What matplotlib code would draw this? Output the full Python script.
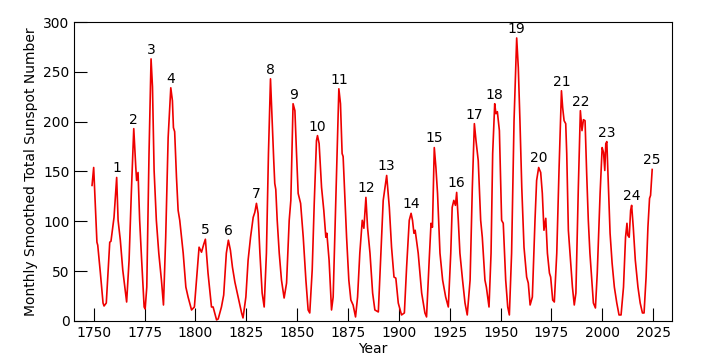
import matplotlib
matplotlib.use("Agg")
import matplotlib.pyplot as plt
import numpy as np

# monthly smoothed sunspot number
years = [1749.2, 1750.0, 1751.6, 1752.0, 1753.3, 1754.6, 1755.1, 1756.2, 1757.9, 1758.5,
         1760.0, 1761.3, 1762.0, 1763.1, 1764.3, 1766.2, 1767.4, 1768.5, 1769.7, 1770.7,
         1771.1, 1771.8, 1772.6, 1773.5, 1774.8, 1775.3, 1776.1, 1777.2, 1778.2, 1778.9,
         1779.7, 1780.8, 1782.0, 1783.3, 1784.3, 1785.4, 1786.6, 1787.9, 1788.7, 1789.2,
         1789.8, 1790.7, 1791.5, 1792.3, 1794.0, 1795.3, 1796.4, 1798.1, 1799.5, 1801.8,
         1803.0, 1804.1, 1804.9, 1806.2, 1807.9, 1808.7, 1810.4, 1811.2, 1812.8, 1813.9,
         1815.2, 1816.2, 1817.2, 1818.2, 1819.4, 1821.0, 1822.7, 1823.4, 1824.8, 1825.9,
         1827.1, 1828.4, 1829.2, 1830.0, 1830.8, 1831.7, 1832.8, 1833.8, 1834.9, 1835.9,
         1836.9, 1837.7, 1838.5, 1839.0, 1839.5, 1840.2, 1841.2, 1842.3, 1843.6, 1844.8,
         1846.1, 1846.9, 1848.0, 1848.9, 1849.7, 1850.5, 1851.7, 1853.0, 1854.3, 1855.4,
         1856.2, 1857.4, 1858.4, 1859.5, 1860.0, 1860.8, 1862.0, 1863.1, 1864.1, 1864.6,
         1865.7, 1866.9, 1867.7, 1868.5, 1869.7, 1870.5, 1871.3, 1872.1, 1872.6, 1873.5,
         1874.3, 1875.4, 1876.4, 1877.5, 1878.7, 1879.7, 1880.8, 1882.0, 1882.8, 1883.8,
         1884.6, 1885.8, 1887.1, 1888.2, 1889.9, 1891.0, 1892.3, 1894.0, 1895.3, 1896.4,
         1897.6, 1898.5, 1899.7, 1901.3, 1902.7, 1903.8, 1905.1, 1906.0, 1906.7, 1907.4,
         1908.0, 1909.5, 1911.2, 1912.8, 1913.6, 1914.9, 1915.8, 1916.5, 1917.4, 1918.2,
         1919.0, 1920.2, 1921.5, 1923.0, 1924.3, 1925.5, 1926.2, 1927.0, 1927.8, 1928.4,
         1929.2, 1930.0, 1931.3, 1932.5, 1933.6, 1935.0, 1936.1, 1937.1, 1937.9, 1939.0,
         1940.2, 1941.0, 1942.3, 1943.0, 1944.3, 1945.3, 1946.1, 1947.1, 1947.7, 1948.4,
         1949.4, 1950.5, 1951.3, 1952.5, 1953.5, 1954.3, 1955.4, 1956.6, 1957.9, 1958.7,
         1959.5, 1960.4, 1961.5, 1962.8, 1963.6, 1964.5, 1965.6, 1966.9, 1967.7, 1968.7,
         1969.7, 1970.5, 1971.3, 1972.2, 1973.0, 1974.0, 1974.6, 1975.6, 1976.4, 1977.6,
         1978.7, 1979.9, 1980.5, 1981.2, 1982.0, 1982.5, 1983.3, 1984.1, 1985.3, 1986.2,
         1987.0, 1988.2, 1989.2, 1990.0, 1990.7, 1991.5, 1992.3, 1993.1, 1993.9, 1994.8,
         1995.6, 1996.6, 1997.5, 1998.9, 1999.9, 2000.6, 2001.2, 2001.7, 2002.2, 2003.0,
         2003.8, 2004.8, 2005.9, 2007.1, 2008.2, 2009.2, 2010.4, 2011.4, 2012.1, 2012.5,
         2013.2, 2013.9, 2014.4, 2015.2, 2016.2, 2017.5, 2018.6, 2019.7, 2020.5, 2021.5,
         2022.4, 2023.2, 2023.7, 2024.5]
ssn = [136, 154, 79, 76, 48, 18, 15, 18, 79, 80,
       104, 144, 101, 81, 51, 19, 61, 128, 193, 154,
       141, 149, 101, 64, 14, 12, 34, 168, 263, 235,
       151, 101, 68, 41, 16, 84, 184, 234, 221, 194,
       190, 144, 111, 101, 68, 34, 24, 11, 14, 74,
       69, 77, 82, 48, 14, 14, 1, 2, 14, 26,
       68, 81, 71, 54, 39, 24, 8, 3, 24, 61,
       84, 104, 109, 118, 108, 68, 28, 14, 68, 168,
       243, 201, 161, 138, 132, 101, 68, 41, 23, 38,
       101, 121, 218, 211, 168, 128, 118, 84, 41, 11,
       8, 51, 118, 181, 186, 178, 134, 111, 84, 88,
       61, 11, 24, 84, 174, 233, 218, 168, 165, 121,
       84, 41, 21, 16, 4, 24, 68, 101, 93, 124,
       94, 68, 28, 11, 9, 61, 121, 146, 114, 74,
       44, 43, 18, 6, 8, 54, 101, 108, 101, 88,
       91, 68, 28, 8, 4, 61, 98, 94, 174, 154,
       128, 68, 41, 24, 14, 68, 114, 121, 116, 129,
       101, 68, 41, 18, 6, 41, 134, 198, 181, 161,
       101, 84, 41, 34, 14, 68, 168, 218, 208, 210,
       191, 101, 98, 41, 14, 6, 68, 201, 284, 254,
       201, 134, 74, 44, 38, 16, 24, 101, 141, 154,
       149, 128, 91, 103, 68, 48, 44, 21, 19, 68,
       151, 231, 214, 201, 198, 168, 91, 68, 34, 16,
       28, 134, 211, 191, 202, 201, 148, 101, 68, 41,
       18, 13, 48, 128, 174, 169, 151, 178, 180, 134,
       88, 58, 34, 18, 6, 6, 34, 84, 98, 86,
       84, 111, 116, 94, 61, 34, 18, 8, 8, 44,
       94, 123, 126, 152]

cycle_names = [str(i) for i in range(1, 26)]
cycle_peaks = [1761.3, 1769.7, 1778.2, 1787.9, 1804.9, 1816.2, 1830.0, 1836.9, 1848.0, 1860.0,
               1870.5, 1883.8, 1894.0, 1906.0, 1917.4, 1928.4, 1937.1, 1947.1, 1957.9, 1968.7,
               1979.9, 1989.2, 2002.2, 2014.4, 2024.5]

fig = plt.figure(figsize=(7.09, 3.61), dpi=100)
ax = fig.add_axes([0.104, 0.111, 0.844, 0.828])

ax.plot(years, ssn, color="#ee0000", lw=1.2)

yr = np.array(years)
for name, py in zip(cycle_names, cycle_peaks):
    i = int(np.argmin(np.abs(yr - py)))
    ax.annotate(name, (years[i], ssn[i]), xytext=(0, 1.5), textcoords="offset points",
                ha="center", va="bottom", fontsize=10)

ax.set_xlim(1740.2, 2034.3)
ax.set_ylim(0, 300)
ax.set_xticks(range(1750, 2026, 25))
ax.set_yticks(range(0, 301, 50))
ax.tick_params(direction="in", length=9.5, width=0.8, labelsize=10)
ax.tick_params(axis="x", pad=4)
ax.tick_params(axis="y", pad=3)
ax.set_xlabel("Year", fontsize=10, labelpad=1)
ax.set_ylabel("Monthly Smoothed Total Sunspot Number", fontsize=10, labelpad=4)
for s in ax.spines.values():
    s.set_linewidth(0.8)

fig.savefig("out.png", dpi=100)
